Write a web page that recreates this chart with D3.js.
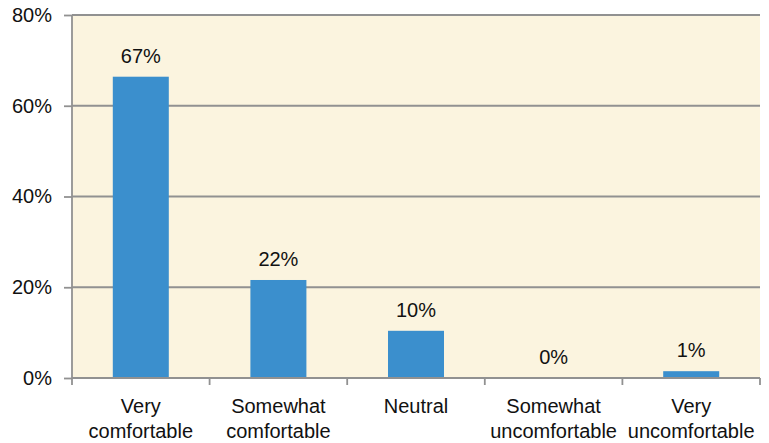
<!DOCTYPE html>
<html><head><meta charset="utf-8">
<script src="https://cdn.jsdelivr.net/npm/d3@7"></script>
<style>
html,body{margin:0;padding:0;background:#fff;}
svg{display:block;font-family:"Liberation Sans",Arial,Helvetica,sans-serif;}
</style></head>
<body>
<svg id="chart" width="769" height="443"></svg>
<script>
const categories = [["Very","comfortable"],["Somewhat","comfortable"],["Neutral"],["Somewhat","uncomfortable"],["Very","uncomfortable"]];
const values = [66.4, 21.6, 10.4, 0, 1.5];
const valueLabels = ["67%","22%","10%","0%","1%"];
const yTicks = [0,20,40,60,80];

const svg = d3.select("#chart");
const L = 72, R = 760, T = 15, B = 378;

const x = d3.scaleBand().domain(d3.range(categories.length)).range([L, R]).padding(0);
const y = d3.scaleLinear().domain([0, 80]).range([B, T]);

// parchment background
const defs = svg.append("defs");
const f = defs.append("filter").attr("id","paper").attr("x",0).attr("y",0).attr("width","100%").attr("height","100%");
f.append("feTurbulence").attr("type","fractalNoise").attr("baseFrequency","0.012 0.02").attr("numOctaves",3).attr("seed",4).attr("result","n");
f.append("feColorMatrix").attr("in","n").attr("type","matrix")
 .attr("values","0 0 0 0 0.96  0 0 0 0 0.90  0 0 0 0 0.74  0 0 0 -1.6 0.95").attr("result","c");
f.append("feComposite").attr("in","c").attr("in2","SourceGraphic").attr("operator","in");

svg.append("rect").attr("x",L).attr("y",T).attr("width",R-L).attr("height",B-T).attr("fill","#fbf4df");
svg.append("rect").attr("x",L).attr("y",T).attr("width",R-L).attr("height",B-T).attr("fill","#000").attr("filter","url(#paper)").attr("opacity",0.12);

// gridlines
svg.append("g").selectAll("line").data(yTicks.filter(d=>d>0)).join("line")
  .attr("x1",L).attr("x2",R).attr("y1",d=>y(d)).attr("y2",d=>y(d))
  .attr("stroke","#919191").attr("stroke-width",1.8);

// y axis
const yAxis = d3.axisLeft(y).tickValues(yTicks).tickFormat(d=>d+"%").tickSize(8).tickPadding(12);
const gy = svg.append("g").attr("transform",`translate(${L},0)`).call(yAxis);
gy.select(".domain").attr("stroke","#919191").attr("stroke-width",1.8).attr("d",`M0,${T}V${B}`);
gy.selectAll(".tick line").attr("stroke","#919191").attr("stroke-width",1.8);
gy.selectAll(".tick text").attr("font-size",20).attr("fill","#111").attr("font-family","Liberation Sans, Arial, sans-serif");

// bars
const bw = x.bandwidth()*0.407;
svg.append("g").selectAll("rect").data(values).join("rect")
  .attr("x",(d,i)=>x(i)+x.bandwidth()/2-bw/2).attr("width",bw)
  .attr("y",d=>y(d)).attr("height",d=>B-y(d)).attr("fill","#3b8fcd");

// value labels
svg.append("g").selectAll("text").data(values).join("text")
  .attr("x",(d,i)=>x(i)+x.bandwidth()/2).attr("y",d=>y(d)-13.7)
  .attr("text-anchor","middle").attr("font-size",20).attr("fill","#111")
  .text((d,i)=>valueLabels[i]);

// x axis
const xAxis = d3.axisBottom(x).tickSize(0).tickFormat("");
const gx = svg.append("g").attr("transform",`translate(0,${B})`).call(xAxis);
gx.select(".domain").attr("stroke","#919191").attr("stroke-width",1.8).attr("d",`M${L},0H${R}`);
gx.selectAll(".tick").remove();
const edges = d3.range(categories.length+1).map(i=> i<categories.length ? x(i) : R);
gx.selectAll("line.edge").data(edges).join("line").attr("class","edge")
  .attr("x1",d=>d).attr("x2",d=>d).attr("y1",0).attr("y2",7)
  .attr("stroke","#919191").attr("stroke-width",1.8);

const cl = svg.append("g").selectAll("text").data(categories).join("text")
  .attr("text-anchor","middle").attr("font-size",20).attr("fill","#111");
cl.each(function(d,i){
  const t = d3.select(this);
  d.forEach((s,j)=>{
    t.append("tspan").attr("x",x(i)+x.bandwidth()/2).attr("y",413.3+j*25).text(s);
  });
});
</script>
</body></html>
